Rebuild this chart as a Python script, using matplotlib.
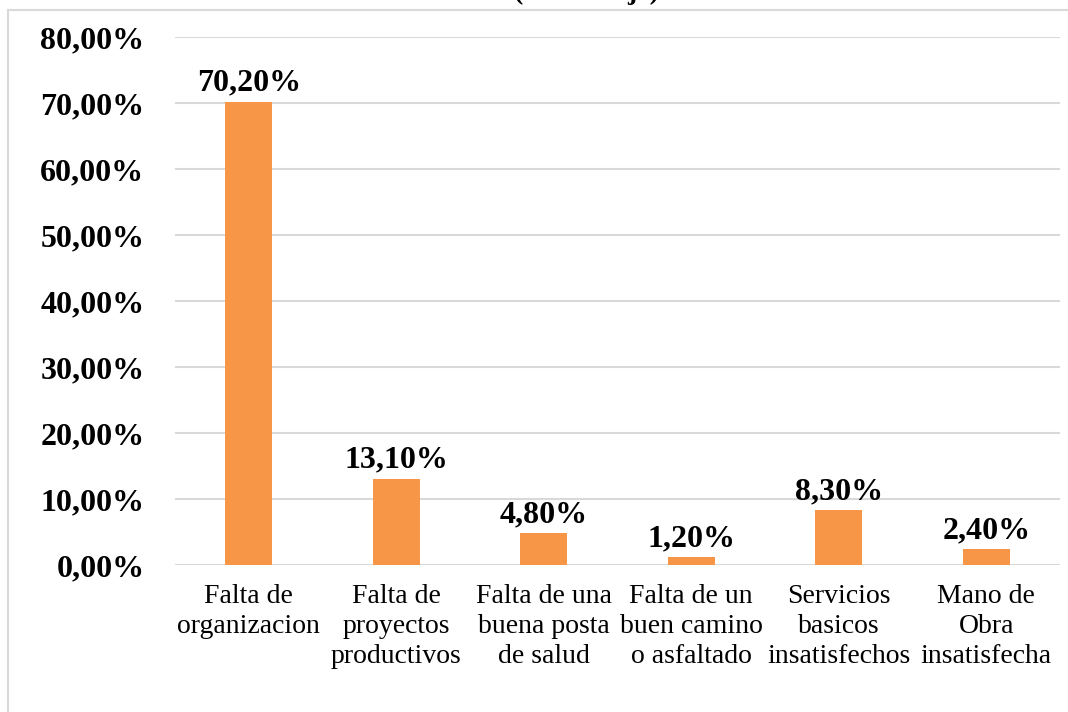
import matplotlib.pyplot as plt
from matplotlib.patches import Rectangle

categorias = ["Falta de\norganizacion", "Falta de\nproyectos\nproductivos",
              "Falta de una\nbuena posta\nde salud", "Falta de un\nbuen camino\no asfaltado",
              "Servicios\nbasicos\ninsatisfechos", "Mano de\nObra\ninsatisfecha"]
porcentajes = [70.20, 13.10, 4.80, 1.20, 8.30, 2.40]
ticks_y = [0, 10, 20, 30, 40, 50, 60, 70, 80]

plt.rcParams['font.family'] = 'Liberation Serif'

fig = plt.figure(figsize=(10.68, 7.12), dpi=100)
ax = fig.add_axes([175/1068, 1 - 565/712, 885/1068, 528/712])

# marco gris del grafico
fig.patches.append(Rectangle((8/1068, -0.1), 1.2, 1 - 10/712 + 0.1, transform=fig.transFigure,
                             fill=False, edgecolor='#D9D9D9', linewidth=1.5))

x = range(len(categorias))
ax.bar(x, porcentajes, width=0.32, color='#F79646', zorder=3)

for i, v in zip(x, porcentajes):
    ax.annotate(f"{v:.2f}%".replace('.', ','), (i, v), xytext=(0, 3), textcoords='offset points',
                ha='center', va='bottom', fontsize=23, fontweight='bold')

ax.set_xlim(-0.5, len(categorias) - 0.5)
ax.set_ylim(0, 80)
ax.set_yticks(ticks_y)
ax.set_yticklabels([f"{t:.2f}%".replace('.', ',') for t in ticks_y], fontsize=23, fontweight='bold')
ax.set_xticks(list(x))
ax.set_xticklabels(categorias, fontsize=20, linespacing=1.25)
ax.tick_params(axis='y', length=0, pad=22)
ax.tick_params(axis='x', length=0, pad=14)
ax.grid(axis='y', color='#D9D9D9', linewidth=1.5, zorder=0)
for s in ax.spines.values():
    s.set_visible(False)

# titulo cortado en la parte superior (solo se ven los descendentes)
fig.text(587/1068, 1 + 1/712, "(Porcentaje)", ha='center', va='baseline',
         fontsize=20, fontweight='bold')

fig.savefig("out.png", dpi=100)
